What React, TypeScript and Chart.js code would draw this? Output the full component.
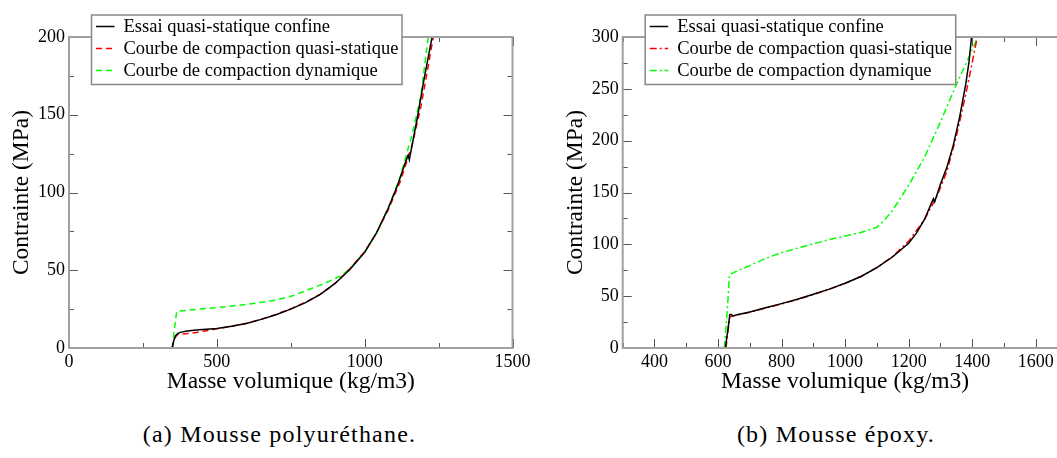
import React, { useEffect, useRef } from 'react';
import { Chart, registerables } from 'chart.js';

Chart.register(...registerables);

// ---------- Labels ----------
const seriesLabels = [
  'Essai quasi-statique confine',
  'Courbe de compaction quasi-statique',
  'Courbe de compaction dynamique',
];
const xAxisTitle = 'Masse volumique (kg/m3)';
const yAxisTitle = 'Contrainte (MPa)';
const captionA = '(a) Mousse polyuréthane.';
const captionB = '(b) Mousse époxy.';

// ---------- (a) Mousse polyuréthane ----------
const puXTicks = [0, 500, 1000, 1500];
const puYTicks = [0, 50, 100, 150, 200];

const puEssaiX = [349, 354, 360, 368, 380, 400, 440, 500, 550, 600, 650, 700, 750, 800, 850, 900, 950, 1000, 1040, 1080, 1110, 1140, 1147, 1151, 1160, 1180, 1200, 1215, 1228];
const puEssaiY = [0, 4.5, 7.8, 9.4, 10.2, 11, 11.8, 12.5, 14, 15.7, 18.4, 21.4, 25, 29.2, 34.5, 41.5, 50.5, 61.5, 74, 90, 104, 120.5, 124, 121, 130, 150, 172, 187, 200];

const puQsX = [349, 356, 365, 380, 400, 430, 470, 500, 550, 600, 650, 700, 750, 800, 850, 900, 950, 1000, 1040, 1080, 1120, 1160, 1190, 1210, 1232];
const puQsY = [0, 5.5, 8.5, 9, 9.3, 10, 11.3, 12.3, 14, 15.9, 18.5, 21.6, 25.2, 29.4, 34.6, 41.5, 51, 62, 74, 89, 107, 130, 155, 176, 200];

const puDynX = [349, 358, 364, 400, 500, 600, 700, 760, 820, 870, 920, 950, 1000, 1040, 1080, 1120, 1160, 1190, 1215];
const puDynY = [0, 14, 23.5, 24.3, 26, 28, 30.8, 33.8, 38.3, 42, 46.5, 51, 62, 74, 90, 110, 137, 162, 200];

// ---------- (b) Mousse époxy ----------
const epXTicks = [400, 600, 800, 1000, 1200, 1400, 1600];
const epYTicks = [0, 50, 100, 150, 200, 250, 300];

const epEssaiX = [623, 630, 637, 641, 647, 660, 700, 750, 800, 850, 900, 950, 1000, 1050, 1100, 1150, 1200, 1225, 1250, 1272, 1278, 1282, 1300, 1320, 1340, 1360, 1380, 1390, 1398];
const epEssaiY = [0, 15, 32, 32.5, 31, 32, 34.8, 38.8, 42.8, 47, 51.8, 56.8, 62.5, 69, 77.5, 88, 101, 111, 124, 140, 144, 141, 158, 174, 195, 222, 255, 276, 300];

const epQsX = [625, 632, 638, 650, 700, 750, 800, 850, 900, 950, 1000, 1050, 1100, 1150, 1200, 1250, 1290, 1320, 1350, 1380, 1400, 1416];
const epQsY = [0, 18, 30, 31, 34.5, 38.6, 42.6, 46.8, 51.6, 56.6, 62.3, 69, 77.5, 88.5, 103, 124, 147, 170, 204, 245, 275, 300];

const epDynX = [620, 630, 636, 700, 750, 800, 850, 900, 950, 1000, 1050, 1100, 1120, 1150, 1200, 1250, 1300, 1350, 1380, 1418];
const epDynY = [0, 40, 71, 79.5, 86.5, 92, 96.3, 100.5, 104.5, 108, 111.5, 116.5, 122, 133, 157, 184, 218, 254, 274, 300];

const FONT = "'Liberation Serif', 'Times New Roman', Times, serif";

const zip = (xs: number[], ys: number[]) => xs.map((x, i) => ({ x, y: ys[i] }));

type PanelCfg = {
  xMin: number; xMax: number; xMinor: number; xMajor: number;
  yMin: number; yMax: number; yMinor: number; yMajor: number;
  xTicks: number[]; yTicks: number[];
  series: { xs: number[]; ys: number[]; color: string; dash: number[] }[];
  padLeft: number; padRight: number;
  width: number; height: number;
};

const framePlugin = {
  id: 'frameTicksLegend',
  afterDraw(chart: any, _args: any, opts: any) {
    const { ctx, chartArea: a, scales } = chart;
    const xs = scales.x, ys = scales.y;
    ctx.save();
    // ticks (inward, all four sides)
    ctx.strokeStyle = '#555';
    ctx.lineWidth = 1;
    const eps = 1e-6;
    for (let v = opts.xMin; v <= opts.xMax + eps; v += opts.xMinor) {
      const px = Math.round(xs.getPixelForValue(v)) + 0.5;
      const major = Math.abs(v / opts.xMajor - Math.round(v / opts.xMajor)) < eps;
      const len = major ? 9 : 5;
      ctx.beginPath();
      ctx.moveTo(px, a.bottom); ctx.lineTo(px, a.bottom - len);
      ctx.moveTo(px, a.top); ctx.lineTo(px, a.top + len);
      ctx.stroke();
    }
    for (let v = opts.yMin; v <= opts.yMax + eps; v += opts.yMinor) {
      const py = Math.round(ys.getPixelForValue(v)) + 0.5;
      const major = Math.abs(v / opts.yMajor - Math.round(v / opts.yMajor)) < eps;
      const len = major ? 9 : 5;
      ctx.beginPath();
      ctx.moveTo(a.left, py); ctx.lineTo(a.left + len, py);
      ctx.moveTo(a.right, py); ctx.lineTo(a.right - len, py);
      ctx.stroke();
    }
    // frame
    ctx.strokeStyle = '#a0a0a0';
    ctx.lineWidth = 2;
    ctx.strokeRect(a.left, a.top, a.right - a.left, a.bottom - a.top);

    // legend box
    const lx = a.left + 22.5, ly = 15, w = 310.5, h = 69.5;
    ctx.fillStyle = '#ffffff';
    ctx.fillRect(lx, ly, w, h);
    ctx.strokeStyle = '#888';
    ctx.lineWidth = 1.5;
    ctx.strokeRect(lx, ly, w, h);
    ctx.font = `18.5px ${FONT}`;
    ctx.textBaseline = 'middle';
    ctx.textAlign = 'left';
    chart.data.datasets.forEach((ds: any, i: number) => {
      const yy = ly + 11.5 + i * 22;
      ctx.strokeStyle = ds.borderColor;
      ctx.lineWidth = ds.borderWidth;
      ctx.setLineDash(ds.borderDash || []);
      ctx.beginPath();
      ctx.moveTo(lx + 4.5, yy);
      ctx.lineTo(lx + 23, yy);
      ctx.stroke();
      ctx.setLineDash([]);
      ctx.fillStyle = '#000';
      ctx.fillText(ds.label, lx + 32, yy + 1);
    });
    ctx.restore();
  },
};

function Panel({ cfg }: { cfg: PanelCfg }) {
  const ref = useRef<HTMLCanvasElement | null>(null);
  useEffect(() => {
    if (!ref.current) return;
    const chart = new Chart(ref.current, {
      type: 'line',
      data: {
        datasets: cfg.series.map((s, i) => ({
          label: seriesLabels[i],
          data: zip(s.xs, s.ys),
          borderColor: s.color,
          borderWidth: 1.5,
          borderDash: s.dash,
          pointRadius: 0,
          fill: false,
          tension: 0,
        })),
      },
      options: {
        animation: false,
        responsive: false,
        maintainAspectRatio: false,
        events: [],
        layout: { padding: { left: cfg.padLeft, right: cfg.padRight, top: 37, bottom: 0 } },
        plugins: {
          legend: { display: false },
          tooltip: { enabled: false },
          frameTicksLegend: {
            xMin: cfg.xMin, xMax: cfg.xMax, xMinor: cfg.xMinor, xMajor: cfg.xMajor,
            yMin: cfg.yMin, yMax: cfg.yMax, yMinor: cfg.yMinor, yMajor: cfg.yMajor,
          },
        } as any,
        scales: {
          x: {
            type: 'linear',
            min: cfg.xMin,
            max: cfg.xMax,
            afterBuildTicks: (s: any) => { s.ticks = cfg.xTicks.map((v) => ({ value: v })); },
            afterFit: (s: any) => { s.height = 52; },
            grid: { display: false, drawTicks: false },
            border: { display: false },
            ticks: {
              autoSkip: false, maxRotation: 0, padding: 3, color: '#000',
              font: { family: FONT, size: 18 },
              callback: (v: any) => String(v),
            },
            title: {
              display: true, text: xAxisTitle, color: '#000',
              font: { family: FONT, size: 23.5 },
              padding: { top: 4, bottom: 4 },
            },
          },
          y: {
            type: 'linear',
            min: cfg.yMin,
            max: cfg.yMax,
            afterBuildTicks: (s: any) => { s.ticks = cfg.yTicks.map((v) => ({ value: v })); },
            afterFit: (s: any) => { s.width = 69; },
            grid: { display: false, drawTicks: false },
            border: { display: false },
            ticks: {
              autoSkip: false, padding: 4, color: '#000',
              font: { family: FONT, size: 18 },
              callback: (v: any) => String(v),
            },
            title: {
              display: true, text: yAxisTitle, color: '#000',
              font: { family: FONT, size: 23.5 },
              padding: { top: 8, bottom: 4 },
            },
          },
        },
      } as any,
      plugins: [framePlugin as any],
    });
    return () => chart.destroy();
  }, [cfg]);
  return <canvas ref={ref} width={cfg.width} height={cfg.height} style={{ display: 'block', width: cfg.width, height: cfg.height }} />;
}

const panelA: PanelCfg = {
  xMin: 0, xMax: 1500, xMinor: 250, xMajor: 500,
  yMin: 0, yMax: 200, yMinor: 25, yMajor: 50,
  xTicks: puXTicks, yTicks: puYTicks,
  series: [
    { xs: puEssaiX, ys: puEssaiY, color: '#000000', dash: [] },
    { xs: puQsX, ys: puQsY, color: '#ff0000', dash: [6, 4] },
    { xs: puDynX, ys: puDynY, color: '#00ff00', dash: [6, 4] },
  ],
  padLeft: 0, padRight: 37.5, width: 550, height: 400,
};

const panelB: PanelCfg = {
  xMin: 300, xMax: 1700, xMinor: 100, xMajor: 200,
  yMin: 0, yMax: 300, yMinor: 25, yMajor: 50,
  xTicks: epXTicks, yTicks: epYTicks,
  series: [
    { xs: epEssaiX, ys: epEssaiY, color: '#000000', dash: [] },
    { xs: epQsX, ys: epQsY, color: '#ff0000', dash: [7, 3, 2, 3] },
    { xs: epDynX, ys: epDynY, color: '#00ff00', dash: [7, 3, 2, 3] },
  ],
  padLeft: 23.7, padRight: 7.5, width: 545, height: 400,
};

export default function App() {
  const capStyle: React.CSSProperties = {
    position: 'absolute', top: 420, fontFamily: FONT, fontSize: 24,
    letterSpacing: 1.2, color: '#000', whiteSpace: 'nowrap', transform: 'translateX(-50%)',
    lineHeight: '28px',
  };
  return (
    <div style={{ position: 'absolute', left: 0, top: 0, width: 1057, height: 458, overflow: 'hidden', background: '#fff' }}>
      <div style={{ position: 'absolute', left: 0, top: 0 }}>
        <Panel cfg={panelA} />
      </div>
      <div style={{ position: 'absolute', left: 530, top: 0 }}>
        <Panel cfg={panelB} />
      </div>
      <div style={{ ...capStyle, left: 279.5 }}>{captionA}</div>
      <div style={{ ...capStyle, left: 836 }}>{captionB}</div>
    </div>
  );
}
